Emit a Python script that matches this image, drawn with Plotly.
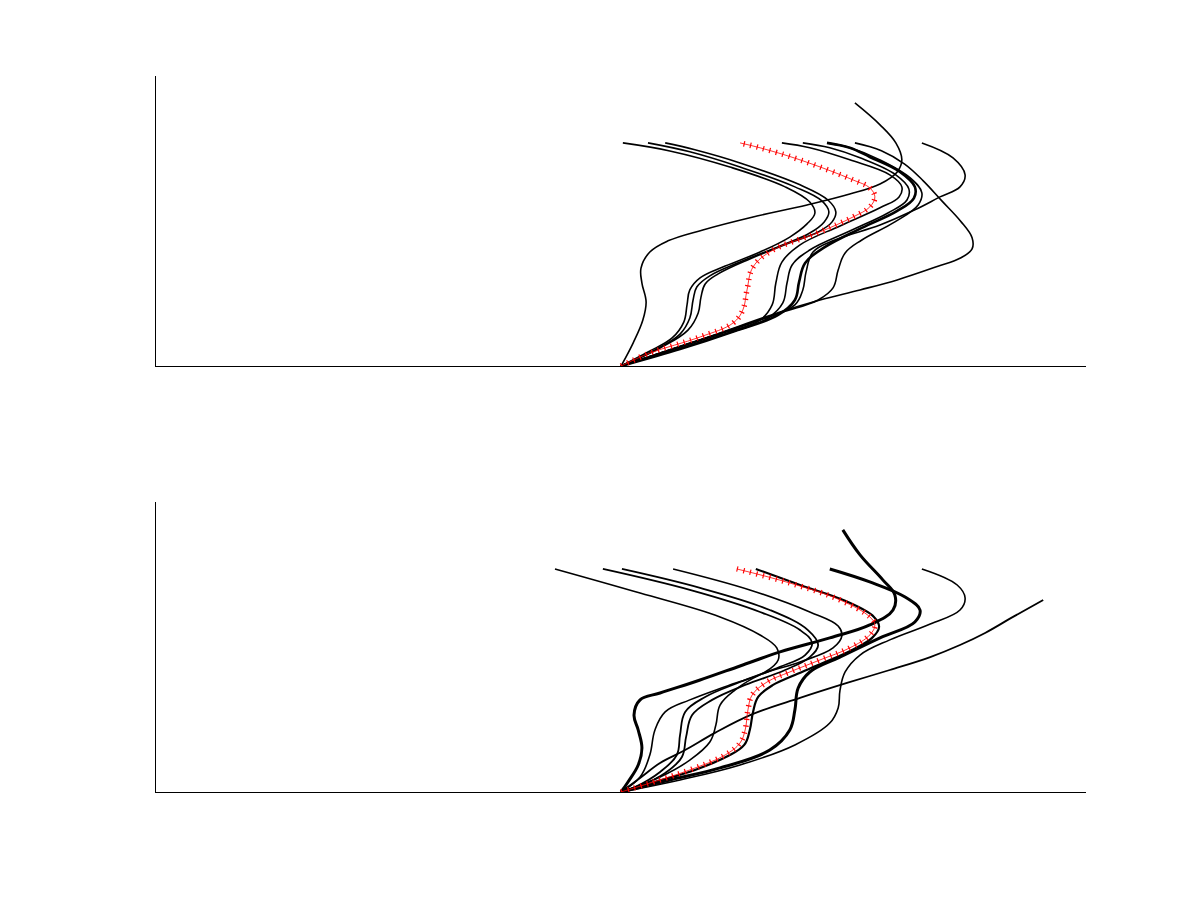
import plotly.graph_objects as go

# ---------------- top panel profiles (x: horizontal value, y: height) ----------------
top_c1_x = [0, .026, .047, .054, .045, .043, .062, .101, .176, .284, .400, .492, .557, .594, .604, .591, .557, .503]
top_c1_y = [0, .103, .206, .287, .372, .439, .511, .561, .610, .668, .722, .771, .816, .870, .924, 1.0, 1.081, 1.179]

top_t1_x = [0, .058, .110, .135, .142, .148, .170, .224, .299, .363, .400, .417, .406, .353, .234, .105, .004]
top_t1_y = [0, .063, .126, .197, .274, .341, .395, .448, .511, .578, .637, .686, .735, .803, .892, .964, 1.0]

top_t2_x = [0, .073, .127, .148, .155, .163, .191, .256, .342, .406, .437, .447, .432, .374, .256, .148, .058]
top_t2_y = [0, .072, .143, .215, .296, .354, .404, .466, .538, .596, .646, .691, .740, .803, .892, .960, 1.0]

top_t3_x = [0, .084, .144, .166, .172, .181, .209, .277, .363, .424, .454, .462, .445, .385, .256, .159, .095]
top_t3_y = [0, .081, .161, .238, .309, .368, .413, .480, .552, .601, .646, .691, .744, .812, .910, .969, 1.0]

top_t5_x = [0, .105, .213, .299, .325, .333, .346, .385, .471, .557, .598, .604, .578, .492, .406, .346]
top_t5_y = [0, .072, .143, .206, .274, .372, .466, .543, .628, .709, .758, .803, .857, .924, .978, 1.0]

top_t6_x = [0, .116, .224, .316, .348, .357, .368, .406, .492, .574, .615, .619, .591, .514, .449, .391]
top_t6_y = [0, .072, .143, .215, .283, .372, .453, .520, .605, .686, .744, .794, .857, .933, .978, 1.0]

top_t7_x = [0, .127, .245, .338, .374, .383, .396, .439, .518, .594, .630, .632, .600, .535, .492, .443]
top_t7_y = [0, .076, .157, .229, .296, .377, .462, .534, .619, .695, .753, .803, .870, .937, .978, 1.0]

top_t8_x = [0, .170, .342, .424, .456, .467, .482, .518, .589, .639, .647, .622, .557, .492, .443]
top_t8_y = [0, .117, .238, .296, .350, .430, .507, .565, .646, .722, .776, .843, .924, .978, 1.0]

top_t9_x = [0, .148, .299, .374, .391, .398, .413, .460, .557, .632, .686, .729, .740, .714, .647]
top_t9_y = [0, .103, .206, .274, .341, .422, .511, .565, .632, .700, .758, .803, .857, .933, 1.0]

top_c2_x = [0, .170, .342, .428, .514, .594, .680, .730, .755, .755, .730, .690, .650, .610, .560, .503]
top_c2_y = [0, .117, .242, .296, .341, .386, .446, .484, .525, .575, .650, .740, .830, .905, .965, 1.0]

top_red_x = [0, .062, .170, .241, .262, .271, .284, .327, .422, .499, .535, .546, .535, .499, .385, .299, .256]
top_red_y = [0, .058, .130, .193, .251, .341, .444, .520, .596, .668, .713, .758, .798, .834, .924, .978, 1.0]

# ---------------- bottom panel profiles ----------------
bot_tall_x = [0, .015, .037, .045, .037, .028, .041, .084, .170, .256, .342, .449, .535, .585, .589, .563, .514, .477]
bot_tall_y = [0, .045, .121, .197, .278, .345, .413, .444, .502, .565, .628, .691, .749, .816, .883, .951, 1.063, 1.175]

bot_b1_x = [0, .041, .062, .073, .095, .148, .234, .310, .338, .335, .299, .213, .041, -.142]
bot_b1_y = [0, .067, .166, .278, .359, .413, .480, .538, .592, .646, .704, .785, .892, 1.0]

bot_b2_x = [0, .030, .084, .120, .127, .138, .181, .256, .342, .396, .411, .385, .299, .148, -.039]
bot_b2_y = [0, .022, .090, .166, .256, .359, .426, .493, .561, .614, .668, .726, .807, .906, 1.0]

bot_b3_x = [0, .041, .095, .131, .140, .153, .196, .267, .353, .406, .424, .402, .320, .170, .002]
bot_b3_y = [0, .027, .085, .157, .247, .345, .413, .480, .547, .605, .659, .726, .816, .915, 1.0]

bot_b4_x = [0, .084, .148, .191, .204, .213, .245, .299, .385, .456, .475, .467, .406, .277, .112]
bot_b4_y = [0, .067, .143, .224, .300, .390, .457, .525, .583, .646, .700, .744, .807, .906, 1.0]

bot_b5_x = [0, .073, .159, .230, .265, .277, .284, .295, .327, .374, .434, .497, .540, .555, .544, .482, .385, .290]
bot_b5_y = [0, .045, .099, .161, .211, .278, .359, .426, .480, .525, .578, .637, .691, .740, .785, .857, .928, 1.0]

bot_b6_x = [0, .105, .213, .320, .363, .374, .381, .406, .471, .557, .632, .643, .611, .535, .449]
bot_b6_y = [0, .054, .108, .188, .278, .368, .466, .538, .605, .691, .762, .816, .874, .942, 1.0]

bot_b7_x = [0, .127, .256, .374, .449, .467, .471, .482, .514, .578, .665, .729, .740, .723, .647]
bot_b7_y = [0, .054, .121, .211, .309, .377, .457, .538, .614, .682, .753, .816, .870, .928, 1.0]

bot_b8_x = [0, .041, .084, .138, .202, .284, .385, .486, .578, .665, .729, .783, .843, .908]
bot_b8_y = [0, .063, .130, .188, .265, .350, .422, .489, .547, .605, .659, .713, .785, .861]

bot_red_x = [0, .062, .148, .224, .256, .267, .273, .282, .314, .363, .428, .492, .535, .546, .535, .471, .363, .249]
bot_red_y = [0, .040, .099, .166, .220, .278, .368, .435, .493, .538, .592, .646, .704, .749, .785, .861, .937, 1.0]

top_black = [
    (top_c1_x, top_c1_y, 1.6), (top_t1_x, top_t1_y, 1.6), (top_t2_x, top_t2_y, 1.6),
    (top_t3_x, top_t3_y, 1.6), (top_t5_x, top_t5_y, 1.6), (top_t6_x, top_t6_y, 1.6),
    (top_t7_x, top_t7_y, 2.6), (top_t8_x, top_t8_y, 1.6), (top_t9_x, top_t9_y, 1.6),
    (top_c2_x, top_c2_y, 1.6),
]
bot_black = [
    (bot_tall_x, bot_tall_y, 3.0), (bot_b1_x, bot_b1_y, 1.6), (bot_b2_x, bot_b2_y, 1.8),
    (bot_b3_x, bot_b3_y, 1.8), (bot_b4_x, bot_b4_y, 1.6), (bot_b5_x, bot_b5_y, 2.2),
    (bot_b6_x, bot_b6_y, 3.0), (bot_b7_x, bot_b7_y, 1.6), (bot_b8_x, bot_b8_y, 1.8),
]

fig = go.Figure()

def add_panel(curves, rx, ry, xa, ya):
    for cx, cy, w in curves:
        fig.add_trace(go.Scatter(x=cx, y=cy, mode="lines", xaxis=xa, yaxis=ya,
                                 line=dict(color="black", width=w, shape="spline", smoothing=1.1),
                                 showlegend=False, hoverinfo="skip"))
    fig.add_trace(go.Scatter(x=rx, y=ry, mode="lines", xaxis=xa, yaxis=ya,
                             line=dict(color="red", width=0.8, shape="spline", smoothing=1.1),
                             showlegend=False, hoverinfo="skip"))
    fig.add_trace(go.Scatter(x=rx, y=ry, mode="lines", xaxis=xa, yaxis=ya,
                             line=dict(color="red", width=5.5, shape="spline", smoothing=1.1,
                                       dash="1.2px,5.5px"),
                             showlegend=False, hoverinfo="skip"))

add_panel(top_black, top_red_x, top_red_y, "x", "y")
add_panel(bot_black, bot_red_x, bot_red_y, "x2", "y2")

axis_style = dict(showline=True, linecolor="black", linewidth=1, showgrid=False,
                  zeroline=False, showticklabels=False, ticks="", mirror=False)

fig.update_layout(
    width=1200, height=900,
    margin=dict(l=0, r=0, t=0, b=0),
    paper_bgcolor="white", plot_bgcolor="white",
    xaxis=dict(domain=[0.13, 0.905], range=[-1, 1], anchor="y", **axis_style),
    yaxis=dict(domain=[0.5933, 0.9156], range=[0, 1.3], anchor="x", **axis_style),
    xaxis2=dict(domain=[0.13, 0.905], range=[-1, 1], anchor="y2", **axis_style),
    yaxis2=dict(domain=[0.12, 0.4422], range=[0, 1.3], anchor="x2", **axis_style),
)

fig.write_html("out.html")
